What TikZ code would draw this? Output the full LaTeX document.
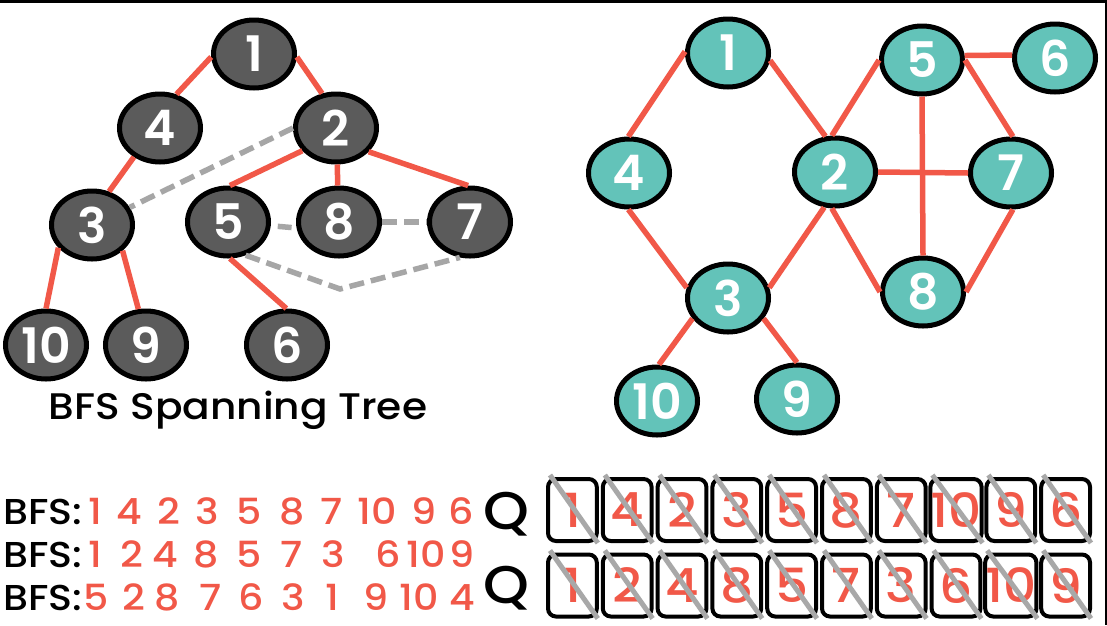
\documentclass[tikz,border=0pt]{standalone}
\usepackage{fontspec}
\setmainfont{Poppins}
\newfontfamily\medfont[FakeStretch=1.1]{Poppins Medium}
\newfontfamily\semifont{Poppins SemiBold}
\usetikzlibrary{shapes.geometric}

\definecolor{edgered}{RGB}{241,88,72}
\definecolor{nodegray}{RGB}{91,91,91}
\definecolor{nodeteal}{RGB}{99,195,185}
\definecolor{dashgray}{RGB}{166,166,166}
\definecolor{slashgray}{RGB}{168,168,168}

\begin{document}
\begin{tikzpicture}[x=1pt,y=-1pt,
  vert/.style={ellipse, draw=black, line width=5pt, minimum width=81pt,
    minimum height=68pt, inner sep=0pt, text=white,
    font=\semifont\fontsize{49}{49}\selectfont},
  treevert/.style={vert, fill=nodegray},
  graphvert/.style={vert, fill=nodeteal},
  treeedge/.style={edgered, line width=5.5pt},
  crossedge/.style={dashgray, line width=5.5pt, dash pattern=on 15pt off 7pt},
  caption/.style={font=\medfont\fontsize{37}{37}\selectfont, text=black, inner sep=0pt},
  seqlabel/.style={font=\medfont\fontsize{36}{36}\selectfont, text=black, inner sep=0pt, anchor=base west},
  seqnum/.style={font=\medfont\fontsize{36}{36}\selectfont, text=edgered, inner sep=0pt, anchor=base},
  qlabel/.style={font=\medfont\fontsize{53}{53}\selectfont, text=black, inner sep=0pt, anchor=base},
  qbox/.style={rectangle, draw=black, line width=4pt, rounded corners=8pt,
    minimum width=48.8pt, minimum height=62pt, inner sep=0pt, outer sep=0pt,
    fill=white, text=edgered, font=\medfont\fontsize{47}{47}\selectfont},
  slash/.style={slashgray, line width=5pt}
]
\useasboundingbox (0,0) rectangle (1107,625);
\fill[white] (0,0) rectangle (1107,625);
\fill[black] (0,0) rectangle (1107,3);
\fill[black] (1104.5,0) rectangle (1107,625);

% ---------- BFS spanning tree ----------
\node[treevert] (t1)  at (254,54)  {1};
\node[treevert] (t4)  at (160,128) {4};
\node[treevert] (t2)  at (336,128) {2};
\node[treevert] (t3)  at (92,225)  {3};
\node[treevert] (t5)  at (228,222) {5};
\node[treevert] (t8)  at (339,222) {8};
\node[treevert] (t7)  at (470,222) {7};
\node[treevert] (t10) at (46,345)  {10};
\node[treevert] (t9)  at (146,345) {9};
\node[treevert] (t6)  at (287,345) {6};

\draw[treeedge] (t1.184) -- (t4.64);
\draw[treeedge] (t1.-4) -- (t2.112);
\draw[treeedge] (t4.228) -- (t3.63);
\draw[treeedge] (t2.214) -- (t5.87);
\draw[treeedge] (t2.-88) -- (t8.92);
\draw[treeedge] (t2.-36) -- (t7.93);
\draw[treeedge] (t3.214) -- (t10.90);
\draw[treeedge] (t3.-40) -- (t9.102);
\draw[treeedge] (t5.-87) -- (t6.91);

% non-tree edges
\coordinate (bend) at (340,289);
\draw[crossedge] (t2.180) -- (t3.25);
\draw[crossedge, shorten <=7pt, shorten >=5pt] (t5.-5) -- (t8.188);
\draw[crossedge] (t8.east) -- (t7.west);
\draw[crossedge] (t5.-62) -- (bend) -- (t7.-106);

\node[caption] (cap) at (238,410) {BFS Spanning Tree};

% ---------- original graph ----------
\node[graphvert] (g1)  at (728,53)  {1};
\node[graphvert] (g5)  at (922,60)  {5};
\node[graphvert] (g6)  at (1055,58) {6};
\node[graphvert] (g4)  at (629,173) {4};
\node[graphvert] (g2)  at (835,172) {2};
\node[graphvert] (g7)  at (1011,173) {7};
\node[graphvert] (g3)  at (728,298) {3};
\node[graphvert] (g8)  at (923,292) {8};
\node[graphvert] (g10) at (657,401) {10};
\node[graphvert] (g9)  at (797,399) {9};

\draw[treeedge] (g1.178) -- (g4.91);
\draw[treeedge] (g1.-10) -- (g2.105);
\draw[treeedge] (g4.-91) -- (g3.166);
\draw[treeedge] (g3.14) -- (g2.-107);
\draw[treeedge] (g2.95) -- (g5.180);
\draw[treeedge] (g2.-95) -- (g8.180);
\draw[treeedge] (g2.east) -- (g7.west);
\draw[treeedge] (g5.south) -- (g8.north);
\draw[treeedge] (g5.6) -- (g6.176);
\draw[treeedge] (g5.0) -- (g7.87);
\draw[treeedge] (g7.-87) -- (g8.0);
\draw[treeedge] (g3.210) -- (g10.87);
\draw[treeedge] (g3.-30) -- (g9.90);

% ---------- traversal orders ----------
\node[seqlabel] (l1) at (3,524) {BFS:};
\node[seqlabel] (l2) at (3,567) {BFS:};
\node[seqlabel] (l3) at (3,610) {BFS:};
\foreach \x/\t in {95.5/1,129/4,168.5/2,207/3,249/5,292/8,331.5/7,377/10,424.5/9,461.5/6}
  \node[seqnum] (sa-\t) at (\x,524) {\t};
\foreach \x/\t in {95.5/1,131.5/2,165.5/4,206/8,249/5,292/7,333.5/3,388.5/6,426/10,462.5/9}
  \node[seqnum] (sb-\t) at (\x,567) {\t};
\foreach \x/\t in {96.5/5,133.5/2,167.5/8,210.5/7,251/6,293/3,332.5/1,376.5/9,419/10,462.5/4}
  \node[seqnum] (sc-\t) at (\x,610) {\t};

% ---------- queues ----------
\node[qlabel] (qla) at (506,529) {Q};
\node[qlabel] (qlb) at (506,603) {Q};
\foreach \t [count=\i from 0] in {1,4,2,3,5,8,7,10,9,6} {
  \node[qbox] (qa\i) at ({572.4+54.8*\i},510) {\t};
  \draw[slash] ([xshift=2pt,yshift=4pt]qa\i.north west) -- ([xshift=1pt,yshift=-2pt]qa\i.south east);
}
\foreach \t [count=\i from 0] in {1,2,4,8,5,7,3,6,10,9} {
  \node[qbox] (qb\i) at ({572.4+54.8*\i},585.5) {\t};
  \draw[slash] ([xshift=2pt,yshift=4pt]qb\i.north west) -- ([xshift=1pt,yshift=-2pt]qb\i.south east);
}
\end{tikzpicture}
\end{document}
